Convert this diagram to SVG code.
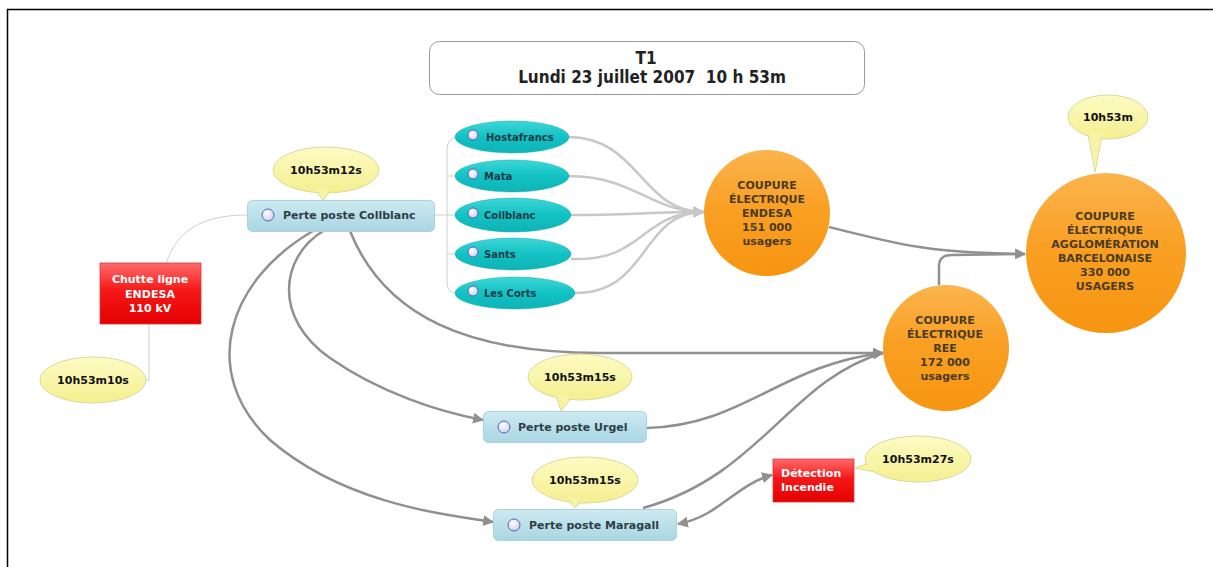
<svg xmlns="http://www.w3.org/2000/svg" width="1213" height="567" viewBox="0 0 1213 567">
<defs>
<linearGradient id="gBlue" x1="0" y1="0" x2="0" y2="1"><stop offset="0" stop-color="#cdeaf1"/><stop offset="1" stop-color="#a9d6e2"/></linearGradient>
<linearGradient id="gTeal" x1="0" y1="0" x2="0" y2="1"><stop offset="0" stop-color="#3fd6d6"/><stop offset="0.5" stop-color="#12c2c4"/><stop offset="1" stop-color="#0fb3b5"/></linearGradient>
<linearGradient id="gRed" x1="0" y1="0" x2="0" y2="1"><stop offset="0" stop-color="#ff6b6b"/><stop offset="0.45" stop-color="#f51818"/><stop offset="1" stop-color="#e40000"/></linearGradient>
<linearGradient id="gOrange" x1="0" y1="0" x2="0" y2="1"><stop offset="0" stop-color="#fbb44e"/><stop offset="0.45" stop-color="#f9a024"/><stop offset="1" stop-color="#f79510"/></linearGradient>
<linearGradient id="gYellow" x1="0" y1="0" x2="0" y2="1"><stop offset="0" stop-color="#fdfbc4"/><stop offset="1" stop-color="#f4ef8f"/></linearGradient>
<radialGradient id="gIcon" cx="0.4" cy="0.35" r="0.7"><stop offset="0" stop-color="#ffffff"/><stop offset="1" stop-color="#c9cdee"/></radialGradient>
<marker id="aDark" viewBox="0 0 10 10" refX="9" refY="5" markerWidth="11" markerHeight="11" markerUnits="userSpaceOnUse" orient="auto-start-reverse"><path d="M0,0 L10,5 L0,10 z" fill="#909090"/></marker>
<marker id="aLight" viewBox="0 0 10 10" refX="9" refY="5" markerWidth="12" markerHeight="12" markerUnits="userSpaceOnUse" orient="auto"><path d="M0,0 L10,5 L0,10 z" fill="#c4c4c4"/></marker>
</defs>
<style>
.lbl{font-family:"DejaVu Sans",Verdana,sans-serif;font-weight:bold;font-size:11px;fill:#2f3d47}
.tl{font-family:"DejaVu Sans",Verdana,sans-serif;font-weight:bold;font-size:10px;fill:#1e3b48}
.bub{font-family:"DejaVu Sans",Verdana,sans-serif;font-weight:bold;font-size:11px;fill:#111;text-anchor:middle}
.circ{font-family:"DejaVu Sans",Verdana,sans-serif;font-weight:bold;font-size:11px;fill:#4a3b22;text-anchor:middle}
.red{font-family:"DejaVu Sans",Verdana,sans-serif;font-weight:bold;font-size:11px;fill:#ffffff}
.title{font-family:"DejaVu Sans Condensed","DejaVu Sans",sans-serif;font-weight:bold;font-size:17px;fill:#222;text-anchor:middle;white-space:pre}
.rect{fill:url(#gBlue);stroke:#a9d3de;stroke-width:1}
.teal{fill:url(#gTeal);stroke:#10aeb0;stroke-width:0.5}
.redbox{fill:url(#gRed);stroke:#d23a3a;stroke-width:0.8}
.orb{fill:url(#gOrange)}
.yb{fill:url(#gYellow);stroke:#dcd99a;stroke-width:1}
.ybf{fill:#f8f4a6}
.icon{fill:url(#gIcon);stroke:#5a62b0;stroke-width:1}
.dark{fill:none;stroke:#909090;stroke-width:2.5}
.light{fill:none;stroke:#c8c8c8;stroke-width:2.5}
.thin{fill:none;stroke:#cfcfcf;stroke-width:1}
</style>
<rect x="0" y="0" width="1213" height="567" fill="#ffffff"/>
<path d="M7.5,567 L7.5,9.5 L1213,9.5" fill="none" stroke="#000" stroke-width="1.5"/>

<g id="connectors">
<path class="thin" d="M166,264 C176,232 200,215 247,215"/>
<path class="thin" d="M149,324 L149,380 L146,380"/>
<path class="thin" d="M435,215 L455,215"/>
<path class="thin" d="M456,137 Q447,139 447,150 L447,282 Q447,293 456,293"/>
<path class="thin" d="M447,176 L456,176 M447,254 L456,254"/>
<path class="light" d="M568,137 C640,137 640,212 704,212" marker-end="url(#aLight)"/>
<path class="light" d="M568,176 C635,176 650,212 704,212"/>
<path class="light" d="M570,215 C630,215 650,212 704,212"/>
<path class="light" d="M571,259 C645,262 640,212 704,212"/>
<path class="light" d="M575,293 C650,293 640,212 704,212"/>
<path class="dark" d="M829,227 C900,245 930,253 1025,254" marker-end="url(#aDark)"/>
<path class="dark" d="M939,285 L939,266 Q939,255 952,255 L1025,254"/>
<path class="dark" d="M350,231 C385,318 470,353 600,353 L883,353" marker-end="url(#aDark)"/>
<path class="dark" d="M647,428 C745,425 780,365 883,353" marker-end="url(#aDark)"/>
<path class="dark" d="M643,508 C760,476 790,380 883,353"/>
<path class="dark" d="M323,231 C280,258 273,318 330,358 C380,393 440,412 483,420" marker-end="url(#aDark)"/>
<path class="dark" d="M313,231 C228,280 198,372 270,440 C340,500 430,513 493,522" marker-end="url(#aDark)"/>
<path class="dark" d="M678,524 C720,516 735,485 772,475" marker-start="url(#aDark)" marker-end="url(#aDark)"/>
</g>

<g id="title">
<rect x="429.5" y="41.5" width="435" height="53" rx="10" fill="#fff" stroke="#9a9a9a" stroke-width="1"/>
<text class="title" x="646" y="64">T1</text>
<text class="title" x="652" y="83" xml:space="preserve">Lundi 23 juillet 2007  10 h 53m</text>
</g>

<g id="chutte">
<rect class="redbox" x="100" y="263" width="101" height="61"/>
<text class="red" text-anchor="middle" x="150" y="283">Chutte ligne</text>
<text class="red" text-anchor="middle" x="150" y="298">ENDESA</text>
<text class="red" text-anchor="middle" x="150" y="312">110 kV</text>
</g>

<g id="bubble-1010">
<ellipse class="yb" cx="93" cy="380" rx="53" ry="23"/>
<text class="bub" x="93" y="384">10h53m10s</text>
</g>

<g id="collblanc-poste">
<rect class="rect" x="247.5" y="200.5" width="187" height="31" rx="5"/>
<circle class="icon" cx="268" cy="215" r="6"/>
<text class="lbl" x="283" y="219">Perte poste Collblanc</text>
</g>

<g id="bubble-1012">
<path class="yb" d="M316,190 L323,200 L331,190 z"/>
<ellipse class="yb" cx="326" cy="170" rx="53" ry="23"/>
<path class="ybf" d="M317,189 L323,199 L330,189 z"/>
<text class="bub" x="326" y="174">10h53m12s</text>
</g>

<g id="hostafrancs">
<ellipse class="teal" cx="512" cy="137" rx="57" ry="16"/>
<circle class="icon" cx="473" cy="135" r="5"/>
<text class="tl" x="486" y="141">Hostafrancs</text>
</g>
<g id="mata">
<ellipse class="teal" cx="512" cy="176" rx="57" ry="16"/>
<circle class="icon" cx="473" cy="174" r="5"/>
<text class="tl" x="484" y="180">Mata</text>
</g>
<g id="collblanc">
<ellipse class="teal" cx="513" cy="215" rx="58" ry="17"/>
<circle class="icon" cx="473" cy="213" r="5"/>
<text class="tl" x="484" y="219">Collblanc</text>
</g>
<g id="sants">
<ellipse class="teal" cx="513" cy="254" rx="58" ry="16"/>
<circle class="icon" cx="473" cy="252" r="5"/>
<text class="tl" x="484" y="258">Sants</text>
</g>
<g id="lescorts">
<ellipse class="teal" cx="515" cy="293" rx="60" ry="16"/>
<circle class="icon" cx="473" cy="291" r="5"/>
<text class="tl" x="484" y="297">Les Corts</text>
</g>

<g id="endesa">
<circle class="orb" cx="767" cy="213" r="63"/>
<text class="circ" x="767" y="189">COUPURE</text>
<text class="circ" x="767" y="203">ÉLECTRIQUE</text>
<text class="circ" x="767" y="217">ENDESA</text>
<text class="circ" x="767" y="231">151 000</text>
<text class="circ" x="767" y="245">usagers</text>
</g>

<g id="aggl">
<circle class="orb" cx="1106" cy="253" r="80"/>
<text class="circ" x="1105" y="220">COUPURE</text>
<text class="circ" x="1105" y="234">ÉLECTRIQUE</text>
<text class="circ" x="1105" y="248">AGGLOMÉRATION</text>
<text class="circ" x="1105" y="262">BARCELONAISE</text>
<text class="circ" x="1105" y="276">330 000</text>
<text class="circ" x="1105" y="290">USAGERS</text>
</g>

<g id="bubble-1053">
<path class="yb" d="M1088,134 L1095,172 L1102,136 z"/>
<ellipse class="yb" cx="1108" cy="117" rx="40" ry="22"/>
<path class="ybf" d="M1089,133 L1095,170 L1101,133 z"/>
<text class="bub" x="1108" y="121">10h53m</text>
</g>

<g id="ree">
<circle class="orb" cx="946" cy="348" r="63"/>
<text class="circ" x="945" y="324">COUPURE</text>
<text class="circ" x="945" y="338">ÉLECTRIQUE</text>
<text class="circ" x="945" y="352">REE</text>
<text class="circ" x="945" y="366">172 000</text>
<text class="circ" x="945" y="380">usagers</text>
</g>

<g id="urgel">
<rect class="rect" x="483.5" y="411.5" width="163" height="31" rx="5"/>
<circle class="icon" cx="504" cy="427" r="6"/>
<text class="lbl" x="518" y="431">Perte poste Urgel</text>
</g>
<g id="bubble-urgel">
<path class="yb" d="M556,395 L561,411 L572,397 z"/>
<ellipse class="yb" cx="580" cy="377" rx="52" ry="23"/>
<path class="ybf" d="M557,394 L561,409 L571,396 z"/>
<text class="bub" x="580" y="381">10h53m15s</text>
</g>

<g id="maragall">
<rect class="rect" x="493.5" y="509.5" width="183" height="31" rx="5"/>
<circle class="icon" cx="514" cy="525" r="6"/>
<text class="lbl" x="529" y="529">Perte poste Maragall</text>
</g>
<g id="bubble-maragall">
<path class="yb" d="M567,498 L575,508 L583,500 z"/>
<ellipse class="yb" cx="585" cy="480" rx="53" ry="23"/>
<path class="ybf" d="M568,497 L575,506 L582,498 z"/>
<text class="bub" x="585" y="484">10h53m15s</text>
</g>

<g id="detection">
<rect class="redbox" x="773" y="459" width="81" height="43"/>
<text class="red" x="781" y="477">Détection</text>
<text class="red" x="781" y="491">Incendie</text>
</g>
<g id="bubble-1027">
<path class="yb" d="M872,462 L855,468 L875,472 z"/>
<ellipse class="yb" cx="918" cy="459" rx="53" ry="23"/>
<path class="ybf" d="M873,463 L857,468 L876,471 z"/>
<text class="bub" x="918" y="463">10h53m27s</text>
</g>
</svg>
